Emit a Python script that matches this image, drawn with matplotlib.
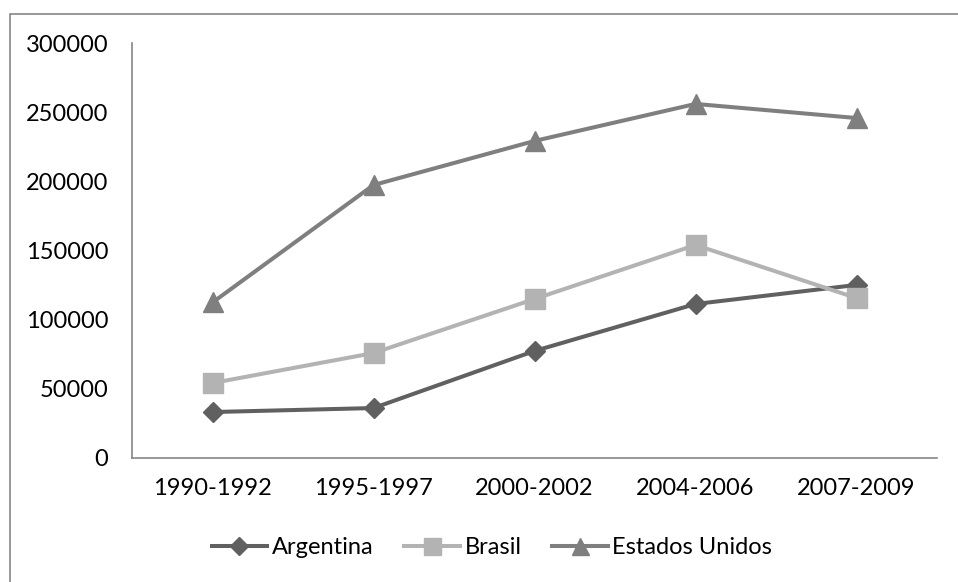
import matplotlib
matplotlib.use("Agg")
import matplotlib.pyplot as plt
from matplotlib.patches import Rectangle

plt.rcParams['font.family'] = ['Lato', 'DejaVu Sans']

periods = ['1990-1992', '1995-1997', '2000-2002', '2004-2006', '2007-2009']
argentina = [32900, 35800, 77100, 111100, 124900]
brasil = [53900, 75600, 114700, 153800, 115400]
estados_unidos = [112200, 197200, 229100, 255900, 245700]

fig = plt.figure(figsize=(9.58, 5.82), dpi=100)
ax = fig.add_axes([132 / 958, 1 - 457.5 / 582, 805 / 958, 414.5 / 582])

# outer chart frame, right and bottom edges fall outside the canvas
fig.patches.append(Rectangle((9.5 / 958, -0.1), 1.2, 1 - 13.5 / 582 + 0.1,
                             transform=fig.transFigure, fill=False,
                             edgecolor='#868686', linewidth=1.2))

x = range(len(periods))
ax.plot(x, argentina, color='#606060', lw=2.9, marker='D', ms=10.2,
        label='Argentina')
ax.plot(x, brasil, color='#b3b3b3', lw=2.9, marker='s', ms=14.4,
        label='Brasil')
ax.plot(x, estados_unidos, color='#7f7f7f', lw=2.9, marker='^', ms=14.4,
        label='Estados Unidos')

ax.set_xlim(-0.5, len(periods) - 0.5)
ax.set_ylim(0, 300000)
ax.set_yticks(range(0, 300001, 50000))
ax.set_xticks(list(x))
ax.set_xticklabels(periods)

for side in ['top', 'right']:
    ax.spines[side].set_visible(False)
for side in ['left', 'bottom']:
    ax.spines[side].set_color('#868686')
    ax.spines[side].set_linewidth(1.2)

ax.tick_params(axis='y', length=0, pad=17, labelsize=17)
ax.tick_params(axis='x', length=0, pad=15, labelsize=17)

fig.legend(loc='center', bbox_to_anchor=(492 / 958, 1 - 548 / 582), ncol=3,
           frameon=False, fontsize=17, handlelength=2.35, handletextpad=0.2,
           columnspacing=1.3, markerscale=0.85)

fig.savefig('out.png', dpi=100)
